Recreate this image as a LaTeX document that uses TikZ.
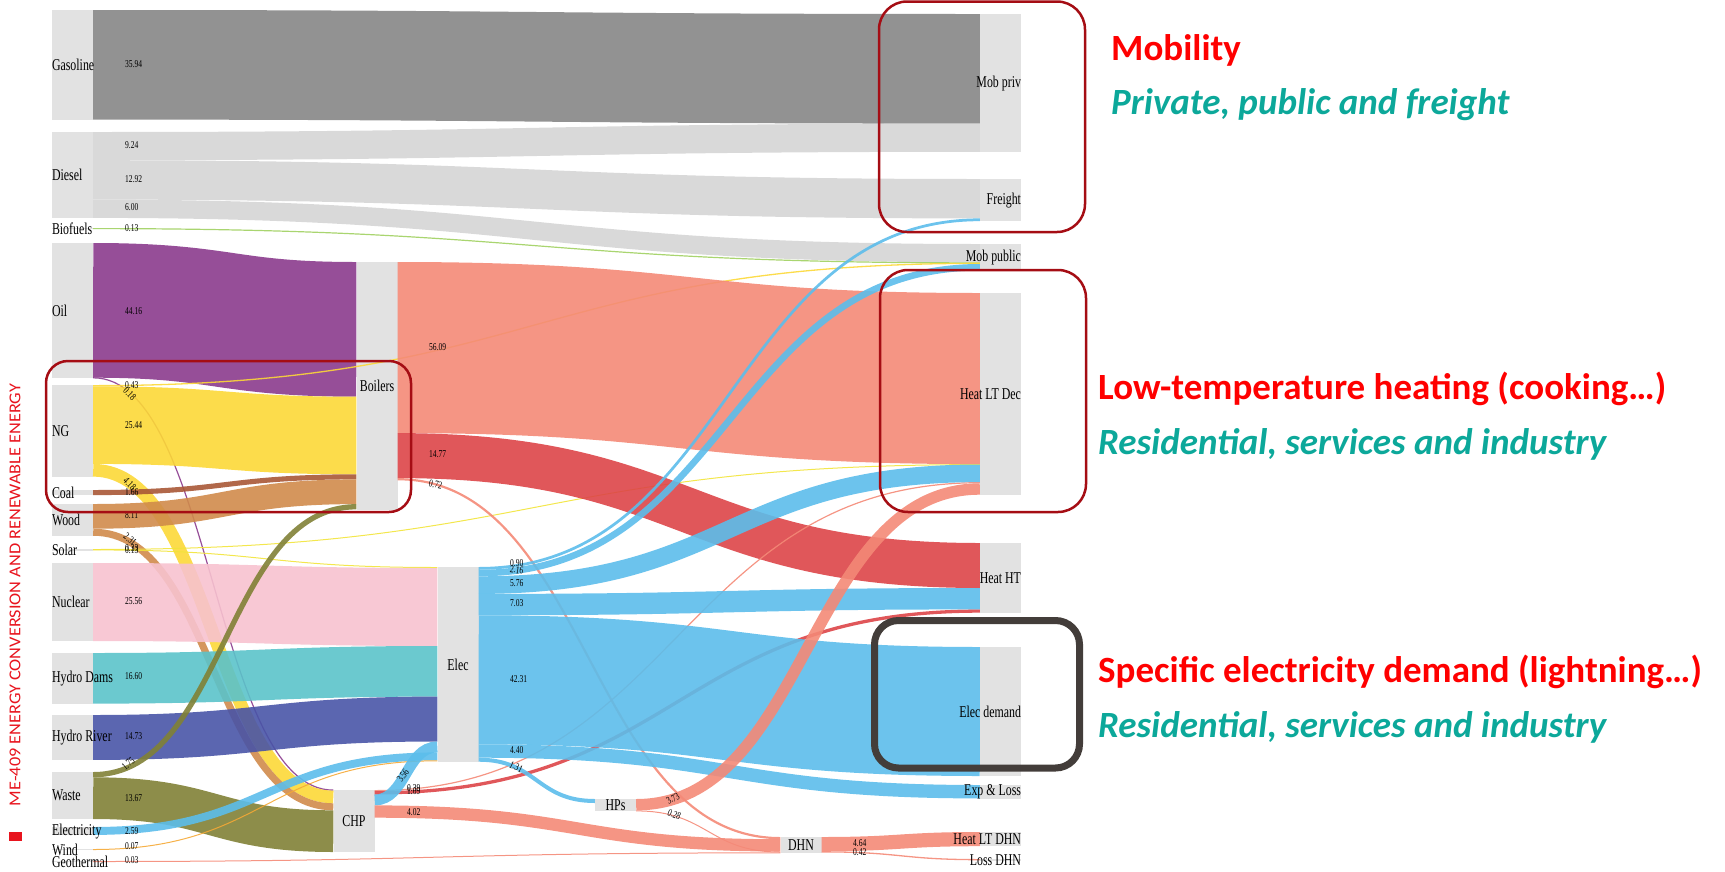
\documentclass[tikz,border=0pt]{standalone}
\usepackage{fontspec}
\usepackage{xcolor}
\definecolor{nodegray}{HTML}{E2E2E2}
\definecolor{cgas}{HTML}{868686}
\definecolor{cdsl}{HTML}{D5D5D5}
\definecolor{cbio}{HTML}{A0D060}
\definecolor{coil}{HTML}{8B3B8D}
\definecolor{cng}{HTML}{FCD837}
\definecolor{ccoal}{HTML}{A85836}
\definecolor{cwood}{HTML}{D08B4B}
\definecolor{csolar}{HTML}{F2E43A}
\definecolor{cnuc}{HTML}{F7C2CF}
\definecolor{cdams}{HTML}{5BC3CA}
\definecolor{criver}{HTML}{4955A7}
\definecolor{cwaste}{HTML}{818136}
\definecolor{celec}{HTML}{5CBDEB}
\definecolor{cwind}{HTML}{F5A835}
\definecolor{cheatlt}{HTML}{F48977}
\definecolor{cheatht}{HTML}{DD4548}
\definecolor{framered}{HTML}{A50D14}
\definecolor{framegray}{HTML}{433D3A}
\definecolor{notered}{HTML}{FF0000}
\definecolor{noteteal}{HTML}{0CA89A}
\definecolor{sidered}{HTML}{E8141E}
\usepackage{tikz}
\usetikzlibrary{calc}

\newfontfamily\sankeyfont[FakeStretch=0.72]{Liberation Serif}
\newfontfamily\notefont{Carlito}
\newfontfamily\sidefont[FakeStretch=1.1]{Carlito}

\tikzset{
  sbox/.style={fill=nodegray, minimum width=41, inner sep=0pt, anchor=north},
  link/.style={draw opacity=0.9, line cap=butt},
  lbl/.style={font=\sankeyfont\fontsize{16.5}{18}\selectfont, inner sep=0pt},
  val/.style={font=\sankeyfont\fontsize{10.5}{12}\selectfont, inner sep=0pt, anchor=west},
  zone/.style={draw=framered, line width=2.5, rounded corners=28},
  note/.style={font=\notefont\bfseries\fontsize{37}{40}\selectfont, anchor=base west, inner sep=0pt},
}

% band from source node to target node: tops in px, width in px
\newcommand{\sflow}[6]{%
  \draw[link, #6, line width=#5pt] let \p1=(#1.east), \p2=(#3.west) in
    (\x1,{-(#2+#5/2)*1pt}) .. controls ({(\x1+\x2)/2},{-(#2+#5/2)*1pt})
    and ({(\x1+\x2)/2},{-(#4+#5/2)*1pt}) .. (\x2,{-(#4+#5/2)*1pt});}

\begin{document}
\begin{tikzpicture}[x=1pt, y=-1pt]
  \useasboundingbox (0,0) rectangle (1725,871);

  % Resources
  \node[sbox, minimum height=109.6] (gas) at (72.5,10) {};
  \node[sbox, minimum height=85.9] (dsl) at (72.5,132) {};
  \node[sbox, minimum height=1] (bio) at (72.5,228) {};
  \node[sbox, minimum height=135.2] (oil) at (72.5,243) {};
  \node[sbox, minimum height=91.7] (ng) at (72.5,385) {};
  \node[sbox, minimum height=5.1] (coal) at (72.5,490) {};
  \node[sbox, minimum height=31.8] (wood) at (72.5,504) {};
  \node[sbox, minimum height=1.4] (solar) at (72.5,549) {};
  \node[sbox, minimum height=78] (nuc) at (72.5,563) {};
  \node[sbox, minimum height=50.6] (dams) at (72.5,653) {};
  \node[sbox, minimum height=44.9] (river) at (72.5,715) {};
  \node[sbox, minimum height=47] (waste) at (72.5,772) {};
  \node[sbox, minimum height=7.9] (elimp) at (72.5,827) {};
  \node[sbox, minimum height=0.5] (wind) at (72.5,849) {};
  \node[sbox, minimum height=0.5] (geo) at (72.5,861) {};

  % Conversion
  \node[sbox, minimum height=247.4] (boilers) at (377,262) {};
  \node[sbox, minimum height=62] (chp) at (354,790) {};
  \node[sbox, minimum height=195] (elec) at (458,567) {};
  \node[sbox, minimum height=12.2] (hps) at (615.5,799) {};
  \node[sbox, minimum height=15.4] (dhn) at (801,837) {};

  % End uses
  \node[sbox, minimum height=137.8] (mobpriv) at (1000.5,14) {};
  \node[sbox, minimum height=42.2] (freight) at (1000.5,179) {};
  \node[sbox, minimum height=26.6] (mobpub) at (1000.5,244) {};
  \node[sbox, minimum height=201.6] (heatlt) at (1000.5,293) {};
  \node[sbox, minimum height=69.8] (heatht) at (1000.5,543) {};
  \node[sbox, minimum height=129] (elecd) at (1000.5,647) {};
  \node[sbox, minimum height=13.4] (exploss) at (1000.5,785) {};
  \node[sbox, minimum height=14.2] (heatdhn) at (1000.5,832) {};
  \node[sbox, minimum height=1.3] (lossdhn) at (1000.5,859) {};

  % Flows out of the resources
  \sflow{gas}{10}{mobpriv}{14}{109.6}{cgas}
  \sflow{dsl}{132}{mobpriv}{123.6}{28.2}{cdsl}
  \sflow{dsl}{160.2}{freight}{179}{39.4}{cdsl}
  \sflow{dsl}{199.6}{mobpub}{244}{18.3}{cdsl}
  \sflow{bio}{228}{mobpub}{262.3}{1.2}{cbio}
  \sflow{oil}{243}{boilers}{262}{134.7}{coil}
  \sflow{oil}{377.2}{chp}{789.5}{1.2}{coil}
  \sflow{ng}{385}{mobpub}{262.7}{1.3}{cng}
  \sflow{ng}{386.3}{boilers}{396.7}{77.6}{cng}
  \sflow{ng}{463.9}{chp}{790.6}{12.7}{cng}
  \sflow{coal}{490}{boilers}{474.3}{5.1}{ccoal}
  \sflow{wood}{504}{boilers}{479.4}{24.7}{cwood}
  \sflow{wood}{528.7}{chp}{803.3}{7.05}{cwood}
  \sflow{solar}{549}{heatlt}{464.1}{1}{csolar}
  \sflow{solar}{549.4}{elec}{567}{1}{csolar}
  \sflow{nuc}{563}{elec}{568}{78}{cnuc}
  \sflow{dams}{653}{elec}{646}{50.6}{cdams}
  \sflow{river}{715}{elec}{696.6}{44.9}{criver}
  \sflow{waste}{772}{boilers}{504.1}{5.3}{cwaste}
  \sflow{waste}{777.3}{chp}{810.3}{41.7}{cwaste}
  \sflow{elimp}{827}{elec}{752.4}{7.9}{celec}
  \sflow{wind}{849}{elec}{760.3}{1}{cwind}
  \sflow{geo}{861}{dhn}{852.3}{1}{cheatlt}

  % Flows out of the conversion units
  \sflow{boilers}{262}{heatlt}{293}{171.1}{cheatlt}
  \sflow{boilers}{433.1}{heatht}{543}{45}{cheatht}
  \sflow{boilers}{478.1}{dhn}{837}{2.2}{cheatlt}
  \sflow{chp}{790}{heatlt}{482.1}{1.2}{cheatlt}
  \sflow{chp}{791.2}{heatht}{609.4}{3.3}{cheatht}
  \sflow{chp}{794.5}{elec}{741.5}{10.9}{celec}
  \sflow{chp}{805.4}{dhn}{839.2}{12.3}{cheatlt}
  \sflow{elec}{567}{freight}{218.4}{2.75}{celec}
  \sflow{elec}{569.75}{mobpub}{264}{6.6}{celec}
  \sflow{elec}{576.3}{heatlt}{464.5}{17.6}{celec}
  \sflow{elec}{593.9}{heatht}{588}{21.4}{celec}
  \sflow{elec}{615.3}{elecd}{647}{129}{celec}
  \sflow{elec}{744.3}{exploss}{785}{13.4}{celec}
  \sflow{elec}{757.7}{hps}{799}{4}{celec}
  \sflow{hps}{799}{heatlt}{483.3}{11.4}{cheatlt}
  \sflow{hps}{810.4}{dhn}{851.5}{1}{cheatlt}
  \sflow{dhn}{837}{heatdhn}{832}{14.2}{cheatlt}
  \sflow{dhn}{851.2}{lossdhn}{859}{1.3}{cheatlt}

  % Node names
  \node[lbl, anchor=west] (l-gas) at (gas.west) {Gasoline};
  \node[lbl, anchor=west] (l-dsl) at (dsl.west) {Diesel};
  \node[lbl, anchor=west] (l-bio) at (bio.west) {Biofuels};
  \node[lbl, anchor=west] (l-oil) at (oil.west) {Oil};
  \node[lbl, anchor=west] (l-ng) at (ng.west) {NG};
  \node[lbl, anchor=west] (l-coal) at (coal.west) {Coal};
  \node[lbl, anchor=west] (l-wood) at (wood.west) {Wood};
  \node[lbl, anchor=west] (l-solar) at (solar.west) {Solar};
  \node[lbl, anchor=west] (l-nuc) at (nuc.west) {Nuclear};
  \node[lbl, anchor=west] (l-dams) at (dams.west) {Hydro Dams};
  \node[lbl, anchor=west] (l-river) at (river.west) {Hydro River};
  \node[lbl, anchor=west] (l-waste) at (waste.west) {Waste};
  \node[lbl, anchor=west] (l-elimp) at (elimp.west) {Electricity};
  \node[lbl, anchor=west] (l-wind) at (wind.west) {Wind};
  \node[lbl, anchor=west] (l-geo) at (geo.west) {Geothermal};
  \node[lbl] (l-boilers) at (boilers) {Boilers};
  \node[lbl] (l-chp) at (chp) {CHP};
  \node[lbl] (l-elec) at (elec) {Elec};
  \node[lbl] (l-hps) at (hps) {HPs};
  \node[lbl] (l-dhn) at (dhn) {DHN};
  \node[lbl, anchor=east] (l-mobpriv) at (mobpriv.east) {Mob priv};
  \node[lbl, anchor=east] (l-freight) at (freight.east) {Freight};
  \node[lbl, anchor=east] (l-mobpub) at (mobpub.east) {Mob public};
  \node[lbl, anchor=east] (l-heatlt) at (heatlt.east) {Heat LT Dec};
  \node[lbl, anchor=east] (l-heatht) at (heatht.east) {Heat HT};
  \node[lbl, anchor=east] (l-elecd) at (elecd.east) {Elec demand};
  \node[lbl, anchor=east] (l-exploss) at (exploss.east) {Exp \& Loss};
  \node[lbl, anchor=east] (l-heatdhn) at (heatdhn.east) {Heat LT DHN};
  \node[lbl, anchor=east] (l-lossdhn) at (lossdhn.east) {Loss DHN};

  % Flow values
  \foreach \vx/\vy/\vr/\vt [count=\i] in {
      125/64/0/35.94, 125/145/0/9.24, 125/179/0/12.92, 125/207/0/6.00,
      125/228/0/0.13, 125/311/0/44.16, 125/385/0/0.43, 125/389/-45/0.18,
      125/425/0/25.44, 125/479/-45/4.18, 125/492/0/1.66, 125/515/0/8.11,
      125/535/-40/2.31, 125/548/0/0.33, 125/550/0/0.13, 125/601/0/25.56,
      125/676/0/16.60, 125/736/0/14.73, 123/768/40/1.75, 125/798/0/13.67,
      125/831/0/2.59, 125/846/0/0.07, 125/860/0/0.03,
      429/347/0/56.09, 429/454/0/14.77, 429/483/-12/0.72,
      399/781/55/3.56, 407/788/0/0.39, 407/791/0/1.09, 407/812/0/4.02,
      510/563/0/0.90, 510/569/-8/2.16, 510/583/0/5.76, 510/603/0/7.03,
      510/679/0/42.31, 510/750/0/4.40, 510/764/-25/1.31,
      667/802/30/3.73, 668/812/-22/0.28, 853/843/0/4.64, 853/852/0/0.42}
    \node[val, rotate=\vr] (val\i) at (\vx,\vy) {\vt};

  % Highlight frames
  \draw[zone] (879,1.5) rectangle (1085,232);
  \draw[zone] (880,270) rectangle (1086,512);
  \draw[zone, rounded corners=22] (46,361) rectangle (411,512);
  \draw[zone, draw=framegray, line width=7, rounded corners=24] (874.5,620.5) rectangle (1079.5,768);

  % Comments on the right
  \node[note, text=notered] (t-mob) at (1111,60) {Mobility};
  \node[note, text=noteteal] (t-mob2) at (1111,114) {\itshape Private, public and freight};
  \node[note, text=notered] (t-lt) at (1098,399) {Low-temperature heating (cooking…)};
  \node[note, text=noteteal] (t-lt2) at (1098,454) {\itshape Residential, services and industry};
  \node[note, text=notered] (t-el) at (1098,682) {Specific electricity demand (lightning…)};
  \node[note, text=noteteal] (t-el2) at (1098,737) {\itshape Residential, services and industry};

  % Course banner
  \node[rotate=90, text=sidered, font=\sidefont\fontsize{16.6}{18}\selectfont, inner sep=0pt] (course) at (15,595) {ME-409 ENERGY CONVERSION AND RENEWABLE ENERGY};
  \node[fill=sidered, minimum width=13, minimum height=9, inner sep=0pt] (mark) at (15.5,836.5) {};
\end{tikzpicture}
\end{document}
